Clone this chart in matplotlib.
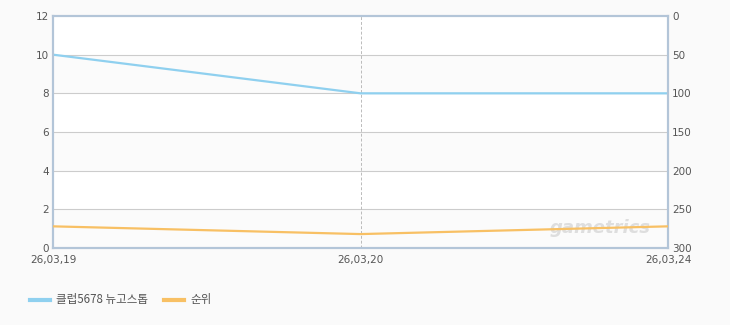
import matplotlib.pyplot as plt
import numpy as np

plt.rcParams['font.family'] = ['DejaVu Sans', 'Noto Sans CJK KR']

dates = ['26,03,19', '26,03,20', '26,03,24']
users = [10, 8, 8]          # 왼쪽 축
rank = [272, 282, 272]      # 오른쪽 축 (반전)
left_ticks = [0, 2, 4, 6, 8, 10, 12]
right_ticks = [0, 50, 100, 150, 200, 250, 300]

bg = '#fafafa'
frame = '#b3c5d8'
txt = '#555555'

fig = plt.figure(figsize=(7.3, 3.25), dpi=100, facecolor=bg)
ax = fig.add_axes([53/730, 77/325, 615/730, 232/325])
ax.set_facecolor('white')

x = np.arange(len(dates))
ax.set_xlim(0, len(dates) - 1)
ax.set_ylim(0, 12)

# alternating bands
for i in range(0, 12, 2):
    if (i // 2) % 2 == 0:
        ax.axhspan(i, i + 2, color='#fbfbfb', zorder=0, lw=0)
for t in left_ticks[1:-1]:
    ax.axhline(t, color='#cccccc', lw=0.8, zorder=1)
ax.axvline(1, color='#bbbbbb', lw=0.7, ls=(0, (3, 2)), zorder=1)

ax.plot(x, users, color='#8fd0ef', lw=1.6, zorder=3, solid_capstyle='butt')

ax2 = ax.twinx()
ax2.set_ylim(300, 0)
ax2.plot(x, rank, color='#f8c064', lw=1.6, zorder=3, solid_capstyle='butt')

ax.set_yticks(left_ticks)
ax2.set_yticks(right_ticks)
ax.set_xticks(x)
ax.set_xticklabels(dates)

for a in (ax, ax2):
    a.tick_params(length=0, labelsize=7.5, colors=txt, pad=3)
    for s in a.spines.values():
        s.set_color(frame)
        s.set_linewidth(1.5)
ax.tick_params(axis='x', pad=5)

ax.text(0.89, 0.085, 'gametrics', transform=ax.transAxes, fontsize=13,
        style='italic', weight='bold', color='#dedede', ha='center',
        va='center', zorder=2)

# legend
fig.lines.append(plt.Line2D([30/730, 50/730], [1 - 300/325] * 2,
                            color='#8fd0ef', lw=3, transform=fig.transFigure))
fig.text(56/730, 1 - 300/325, '클럽5678 뉴고스톱', fontsize=8.3, color=txt,
         va='center', family=['Noto Sans CJK KR', 'DejaVu Sans'])
fig.lines.append(plt.Line2D([164/730, 184/730], [1 - 300/325] * 2,
                            color='#f8c064', lw=3, transform=fig.transFigure))
fig.text(190/730, 1 - 300/325, '순위', fontsize=8.3, color=txt,
         va='center', family=['Noto Sans CJK KR', 'DejaVu Sans'])

fig.savefig('out.png', dpi=100, facecolor=bg)
